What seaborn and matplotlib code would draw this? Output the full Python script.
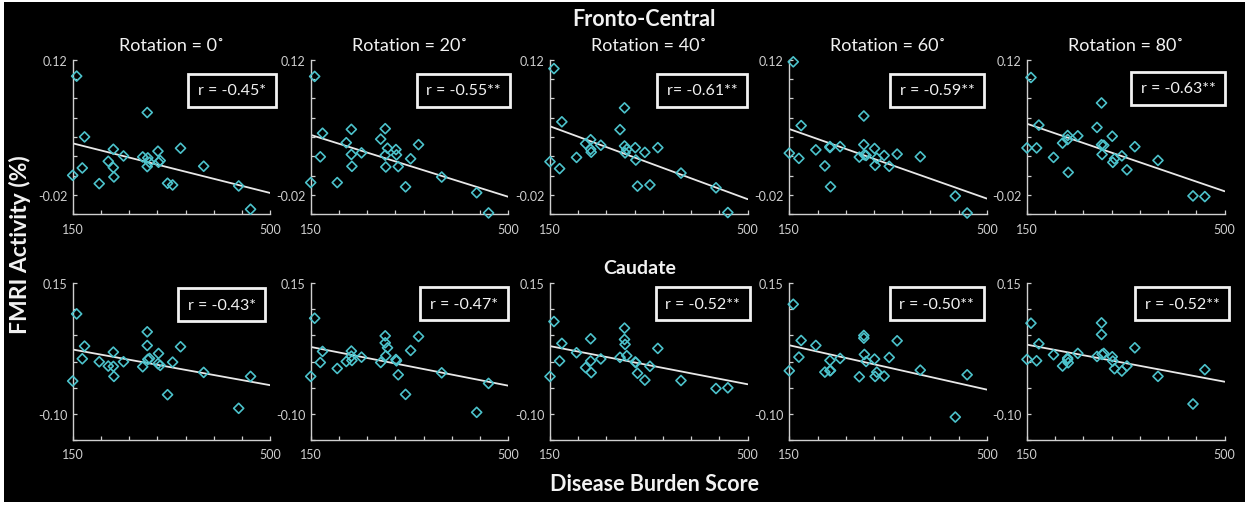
import numpy as np
import pandas as pd
import matplotlib
matplotlib.use("Agg")
import matplotlib.pyplot as plt
import seaborn as sns
from matplotlib.patches import Rectangle

# ---------------- data ----------------
burden = [150, 157, 167, 171, 197, 213, 222, 222, 223, 240, 274, 282,
          282, 283, 286, 301, 302, 305, 318, 327, 341, 382, 444, 465]

rotation_titles = ["Rotation = 0˚", "Rotation = 20˚", "Rotation = 40˚",
                   "Rotation = 60˚", "Rotation = 80˚"]

fc_rot0 = [0.0003, 0.1028, 0.0079, 0.040, -0.0083, 0.0148, 0.0272, 0.0083, -0.0014, 0.0203, 0.0193, 0.0652,
           0.0093, 0.0183, 0.0138, 0.0252, 0.0138, 0.0155, -0.0079, -0.0097, 0.0283, 0.0097, -0.0107, -0.0348]
fc_rot20 = [-0.0072, 0.1025, 0.0194, 0.0438, -0.0072, 0.034, 0.0478, 0.0218, 0.0096, 0.0235, 0.0377, 0.0485,
            0.0211, 0.0089, 0.0283, 0.0269, 0.0214, 0.0093, -0.0116, 0.0174, 0.032, -0.0015, -0.0177, -0.0386]
fc_rot40 = [0.0144, 0.1106, 0.0072, 0.0556, 0.0188, 0.033, 0.0371, 0.0272, 0.0242, 0.0314, 0.0475, 0.070,
            0.0306, 0.0235, 0.0272, 0.0289, 0.0161, -0.0109, 0.024, -0.0096, 0.0289, 0.0026, -0.0126, -0.0382]
fc_rot60 = [0.0232, 0.1176, 0.0178, 0.0517, 0.0266, 0.0100, 0.030, 0.029, -0.0115, 0.030, 0.0191, 0.0616,
            0.032, 0.0215, 0.0208, 0.028, 0.0106, 0.0181, 0.0208, 0.0096, 0.0222, 0.0195, -0.0211, -0.0387]
fc_rot80 = [0.0286, 0.1014, 0.0286, 0.0522, 0.0188, 0.0336, 0.0414, 0.0373, 0.0033, 0.0411, 0.0498, 0.0751,
            0.0319, 0.0218, 0.0313, 0.0407, 0.0137, 0.0174, 0.0204, 0.006, 0.0299, 0.0157, -0.021, -0.0217]

cau_rot0 = [-0.0375, 0.0913, 0.0052, 0.0295, -0.0005, -0.0088, 0.018, -0.0094, -0.0286, -0.0005, -0.0101, 0.0569,
            0.0307, 0.004, 0.0059, -0.0043, 0.0154, -0.0075, -0.0637, -0.0012, 0.0283, -0.0209, -0.0898, -0.0286]
cau_rot20 = [-0.0286, 0.083, -0.0019, 0.0193, -0.0134, 0.0, 0.020, 0.0102, 0.002, 0.0083, -0.0019, 0.0492,
             0.0358, 0.0109, 0.0263, 0.0038, 0.0013, -0.0255, -0.0631, 0.0212, 0.048, -0.0217, -0.0975, -0.042]
cau_rot40 = [-0.0288, 0.0767, 0.001, 0.0347, 0.0168, -0.0117, 0.0436, 0.001, -0.0213, 0.0049, 0.008, 0.064,
             0.0423, 0.0327, 0.0111, -0.0009, -0.002, -0.0225, -0.0357, -0.0092, 0.0251, -0.0365, -0.0518, -0.0505]
cau_rot60 = [-0.0178, 0.1098, 0.0084, 0.0403, 0.0308, -0.0204, 0.002, -0.0178, -0.0172, 0.0059, -0.0293, 0.0499,
             0.0448, 0.0135, 0.0001, 0.0046, -0.0287, -0.0204, -0.028, 0.0078, 0.0397, -0.0166, -0.1066, -0.0255]
cau_rot80 = [0.004, 0.0735, 0.0014, 0.034, 0.0129, -0.0087, 0.0065, 0.004, -0.0024, 0.0155, 0.0097, 0.0741,
             0.0518, 0.0135, 0.0155, 0.0091, 0.0008, -0.0139, -0.0183, -0.0087, 0.0263, -0.0285, -0.0815, -0.0157]

fc_r_labels = ["r = -0.45*", "r = -0.55**", "r= -0.61**", "r = -0.59**", "r = -0.63**"]
cau_r_labels = ["r = -0.43*", "r = -0.47*", "r = -0.52**", "r = -0.50**", "r = -0.52**"]

x_ticks = [150, 200, 250, 300, 350, 400, 450, 500]
x_tick_labels = ["150", "", "", "", "", "", "", "500"]
fc_y_ticks = [-0.04, -0.02, 0.0, 0.02, 0.04, 0.06, 0.08, 0.10, 0.12]
fc_y_tick_labels = ["", "-0.02", "", "", "", "", "", "", "0.12"]
cau_y_ticks = [-0.15, -0.10, -0.05, 0.0, 0.05, 0.10, 0.15]
cau_y_tick_labels = ["", "-0.10", "", "", "", "", "0.15"]

fc_series = [fc_rot0, fc_rot20, fc_rot40, fc_rot60, fc_rot80]
cau_series = [cau_rot0, cau_rot20, cau_rot40, cau_rot60, cau_rot80]

# ---------------- style ----------------
sns.set_style("ticks")
plt.rcParams['font.family'] = ['Lato', 'DejaVu Sans']

CYAN = '#4cc2cb'
FG = '#f2f2f2'
TICKC = '#cfcfcf'
W, H = 1253, 506

fig = plt.figure(figsize=(W / 100, H / 100), dpi=100, facecolor='white')
fig.patches.append(Rectangle((4 / W, 3 / H), 1241 / W, 500 / H, transform=fig.transFigure,
                             facecolor='black', edgecolor='none', zorder=-10))

lefts = [72.7, 310.7, 550.0, 789.3, 1027.0]
ax_w = 197.6
rows = [  # (top px, bottom px)
    (60.5, 215.3),
    (284.3, 440.7),
]
box_top = [(0.806, 0.80), (0.773, 0.80), (0.771, 0.80), (0.748, 0.80), (0.765, 0.815)]
box_bot = [(0.755, 0.863), (0.776, 0.87), (0.773, 0.87), (0.746, 0.87), (0.786, 0.87)]

for r, (series, rlabels, yt, ytl, ylim, boxes) in enumerate([
        (fc_series, fc_r_labels, fc_y_ticks, fc_y_tick_labels, (-0.04, 0.12), box_top),
        (cau_series, cau_r_labels, cau_y_ticks, cau_y_tick_labels, (-0.15, 0.15), box_bot)]):
    top, bot = rows[r]
    for c in range(5):
        ax = fig.add_axes([lefts[c] / W, 1 - bot / H, ax_w / W, (bot - top) / H])
        ax.set_facecolor('none')
        ax.set_xlim(150, 500)
        ax.set_ylim(*ylim)
        df = pd.DataFrame({"burden": burden, "activity": series[c]})
        sns.regplot(data=df, x="burden", y="activity", ax=ax, scatter=False, ci=None,
                    truncate=False, line_kws=dict(color='#e8e8e8', lw=1.3))
        sns.scatterplot(data=df, x="burden", y="activity", ax=ax, marker='D', s=26,
                        facecolor='none', edgecolor=CYAN, linewidth=1.2, zorder=3,
                        clip_on=False)
        ax.set_xlim(150, 500)
        ax.set_ylim(*ylim)
        ax.set_xlabel("")
        ax.set_ylabel("")
        ax.set_xticks(x_ticks)
        ax.set_xticklabels(x_tick_labels)
        ax.set_yticks(yt)
        ax.set_yticklabels(ytl)
        ax.tick_params(direction='in', length=3, width=0.9, colors=TICKC, labelsize=9,
                       pad=4)
        ax.tick_params(axis='x', pad=6)
        for s in ['top', 'right']:
            ax.spines[s].set_visible(False)
        for s in ['left', 'bottom']:
            ax.spines[s].set_color(TICKC)
            ax.spines[s].set_linewidth(1.0)
        bx, by = boxes[c]
        ax.text(bx, by, rlabels[c], transform=ax.transAxes, ha='center', va='center',
                color=FG, fontsize=11.5, zorder=5, clip_on=False,
                bbox=dict(boxstyle='square,pad=0.6', facecolor='black', edgecolor=FG, lw=2))
        if r == 0:
            ax.set_title(rotation_titles[c], color=FG, fontsize=13, pad=7)

fig.text(644 / W, 1 - 19 / H, "Fronto-Central", ha='center', va='center', color=FG,
         fontsize=15.5, fontweight='bold')
fig.text(640 / W, 1 - 268 / H, "Caudate", ha='center', va='center', color=FG,
         fontsize=14, fontweight='bold')
fig.text(654 / W, 1 - 485 / H, "Disease Burden Score", ha='center', va='center', color=FG,
         fontsize=15.5, fontweight='bold')
fig.text(20 / W, 1 - 245 / H, "FMRI Activity (%)", ha='center', va='center', color=FG,
         fontsize=16.5, fontweight='bold', rotation=90)

fig.savefig("out.png", dpi=100, facecolor=fig.get_facecolor())
